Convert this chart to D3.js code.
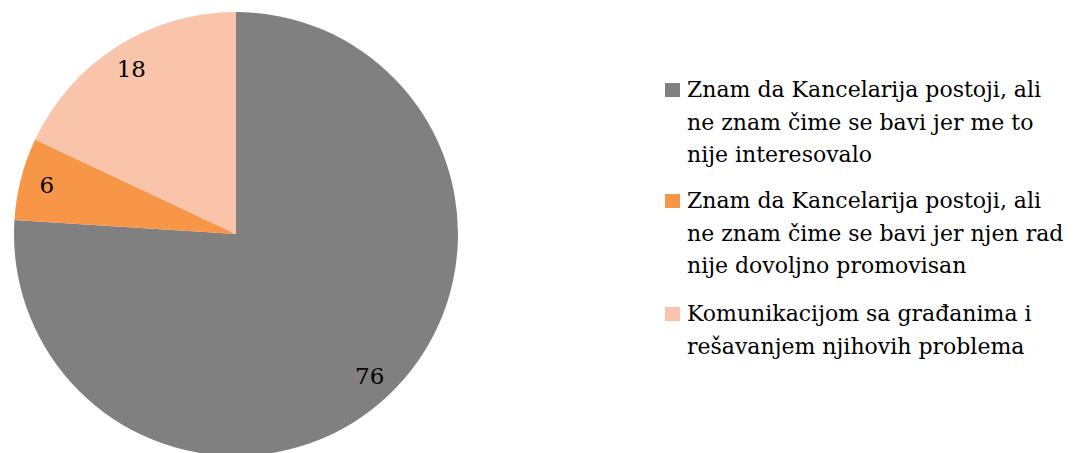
<!DOCTYPE html>
<html>
<head>
<meta charset="utf-8">
<script src="https://cdn.jsdelivr.net/npm/d3@7"></script>
<style>
  body { margin: 0; background: #fff; }
  text { font-family: "DejaVu Serif", serif; }
</style>
</head>
<body>
<div id="chart"></div>
<script>
var categories = [
    ["Znam da Kancelarija postoji, ali", "ne znam čime se bavi jer me to", "nije interesovalo"],
    ["Znam da Kancelarija postoji, ali", "ne znam čime se bavi jer njen rad", "nije dovoljno promovisan"],
    ["Komunikacijom sa građanima i", "rešavanjem njihovih problema"]
];
var values = [76, 6, 18];
var colors = ["#808080", "#F79646", "#F9C4A9"];

var width = 1074, height = 453;
var cx = 236, cy = 234, radius = 222;

var svg = d3.select("#chart").append("svg")
    .attr("width", width)
    .attr("height", height);

var pie = d3.pie().sort(null).value(function(d){ return d; });
var arc = d3.arc().innerRadius(0).outerRadius(radius);
var labelArc = d3.arc().innerRadius(radius * 0.88).outerRadius(radius * 0.88);

var g = svg.append("g").attr("transform", "translate(" + cx + "," + cy + ")");

var slices = pie(values);

g.selectAll("path")
    .data(slices)
    .enter().append("path")
    .attr("d", arc)
    .attr("fill", function(d, i){ return colors[i]; });

g.selectAll("text.lbl")
    .data(slices)
    .enter().append("text")
    .attr("class", "lbl")
    .attr("transform", function(d){ return "translate(" + labelArc.centroid(d) + ")"; })
    .attr("text-anchor", "middle")
    .attr("dy", "0.35em")
    .attr("font-size", "23px")
    .attr("fill", "#000")
    .text(function(d){ return d.data; });

// legenda
var legendX = 665, lineH = 32.5;
var itemTop = [90, 201, 314];

var leg = svg.append("g");
categories.forEach(function(lines, i){
    var item = leg.append("g").attr("transform", "translate(" + legendX + "," + itemTop[i] + ")");
    item.append("rect")
        .attr("x", 0)
        .attr("y", -7)
        .attr("width", 15)
        .attr("height", 14)
        .attr("fill", colors[i]);
    lines.forEach(function(t, j){
        item.append("text")
            .attr("x", 22)
            .attr("y", j * lineH)
            .attr("dy", "0.33em")
            .attr("font-size", "22px")
            .attr("fill", "#000")
            .text(t);
    });
});
</script>
</body>
</html>
